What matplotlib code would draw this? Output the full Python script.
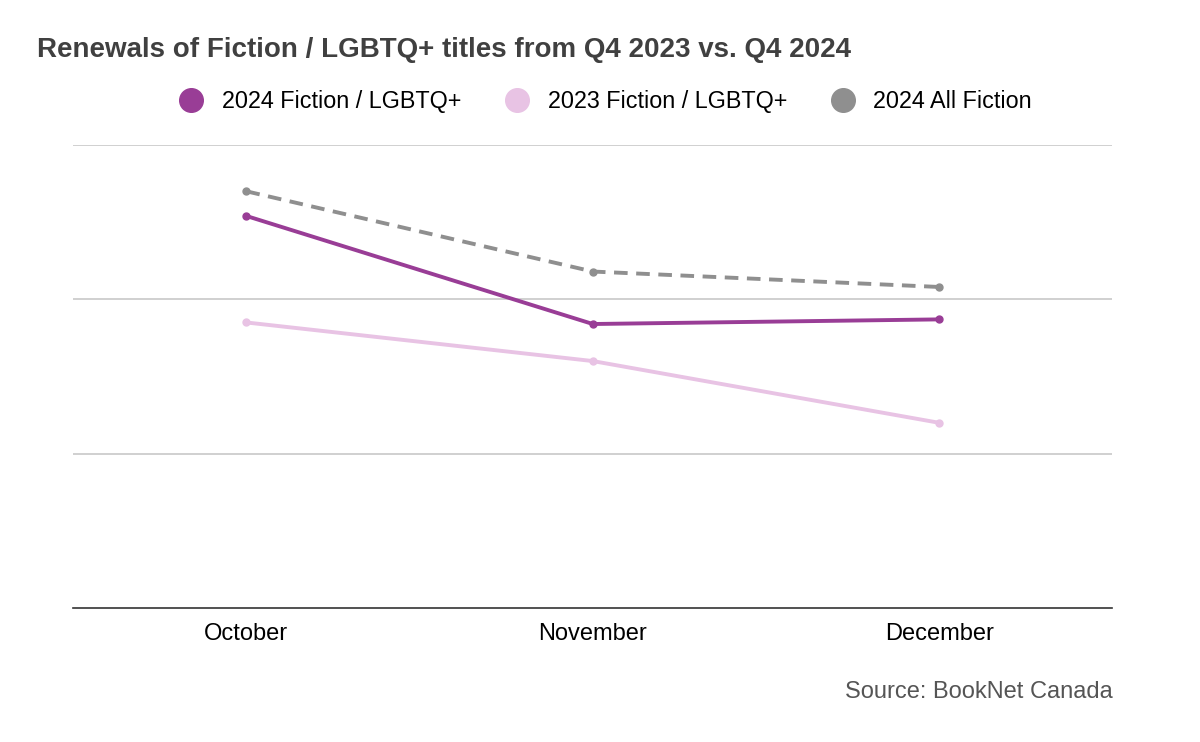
import matplotlib.pyplot as plt
from matplotlib.lines import Line2D

months = ['October', 'November', 'December']
fiction_lgbtq_2024 = [2.54, 1.84, 1.87]
fiction_lgbtq_2023 = [1.85, 1.60, 1.20]
all_fiction_2024 = [2.70, 2.18, 2.08]

c2024 = '#993d96'
c2023 = '#e8c3e4'
call = '#8f8f8f'

plt.rcParams['font.family'] = ['Liberation Sans', 'DejaVu Sans']

fig = plt.figure(figsize=(12, 7.42), dpi=100)
ax = fig.add_axes([0.061, 0.1806, 0.866, 0.624])

x = range(len(months))
ax.plot(x, all_fiction_2024, color=call, lw=2.8, ls=(0, (3.5, 2.2)), marker='o', ms=5, zorder=3)
ax.plot(x, fiction_lgbtq_2023, color=c2023, lw=2.8, marker='o', ms=5, zorder=3)
ax.plot(x, fiction_lgbtq_2024, color=c2024, lw=2.8, marker='o', ms=5, zorder=4)

ax.set_xlim(-0.5, 2.5)
ax.set_ylim(0, 3)
ax.set_yticks([1, 2, 3])
ax.set_yticklabels([])
ax.tick_params(axis='y', length=0)
ax.tick_params(axis='x', length=0, labelsize=17, pad=11)
ax.set_xticks(list(x))
ax.set_xticklabels(months)
ax.grid(axis='y', color='#c8c8c8', lw=1.2)
for s in ['top', 'right', 'left']:
    ax.spines[s].set_visible(False)
ax.spines['bottom'].set_color('#333333')
ax.spines['bottom'].set_linewidth(1.2)

fig.text(0.031, 0.932, 'Renewals of Fiction / LGBTQ+ titles from Q4 2023 vs. Q4 2024',
         fontsize=20, fontweight='bold', color='#404040', va='center')

handles = [Line2D([], [], ls='', marker='o', ms=17, color=c) for c in (c2024, c2023, call)]
fig.legend(handles, ['2024 Fiction / LGBTQ+', '2023 Fiction / LGBTQ+', '2024 All Fiction'],
           loc='center', bbox_to_anchor=(0.5, 0.863), ncol=3, frameon=False,
           fontsize=16.8, handletextpad=0.3, columnspacing=1.4)

fig.text(0.927, 0.068, 'Source: BookNet Canada', fontsize=17, color='#555555', ha='right', va='center')

fig.savefig('out.png', dpi=100)
